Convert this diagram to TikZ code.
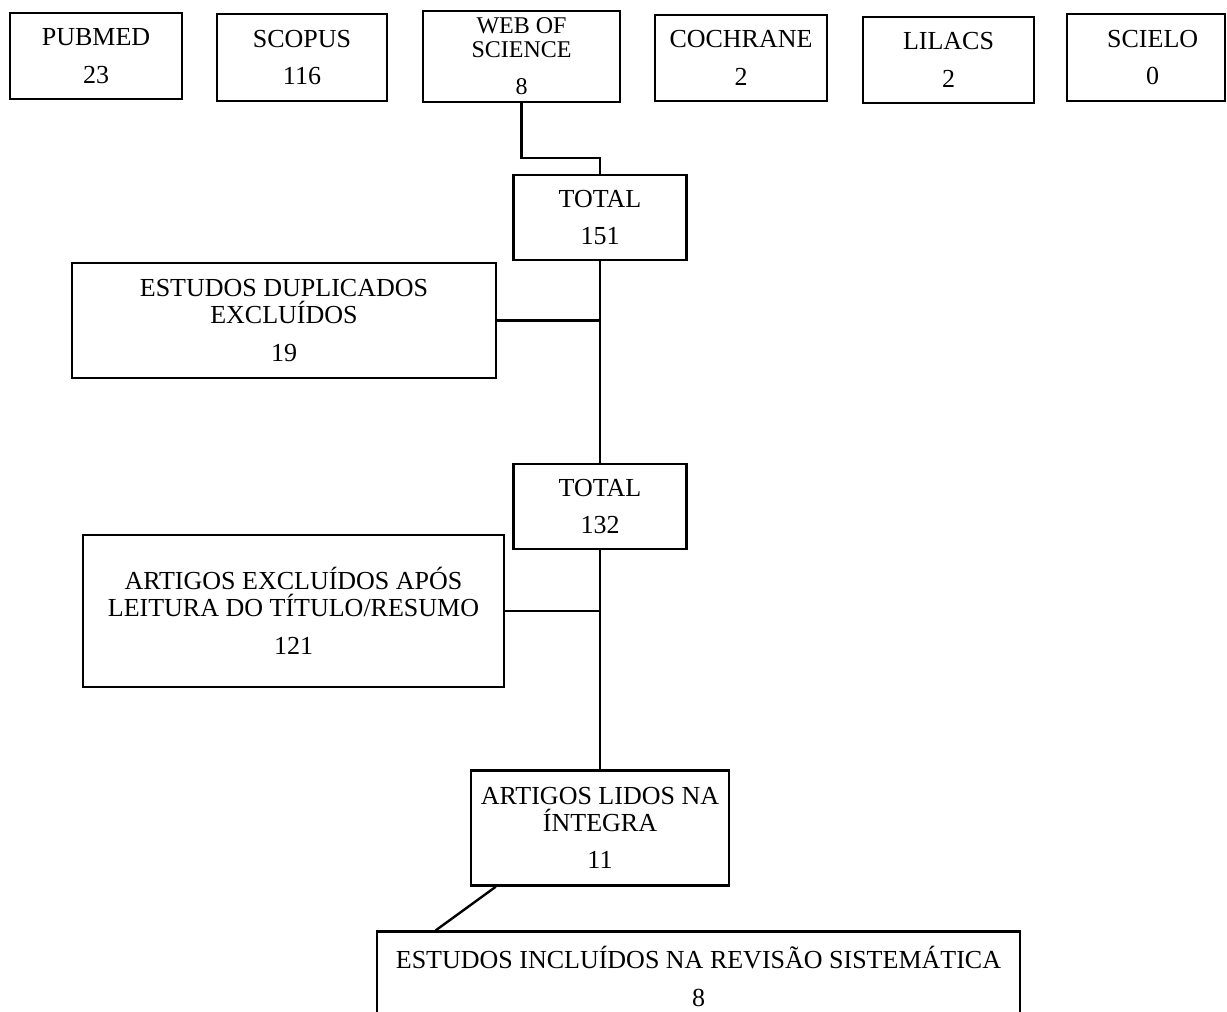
\documentclass[tikz,border=0pt]{standalone}
\usepackage{fontspec}
\setmainfont{Liberation Serif}
\usetikzlibrary{positioning, calc}

\begin{document}
\begin{tikzpicture}[x=0.75pt, y=-0.75pt,
        box/.style={draw, line width=1.8pt, inner sep=0pt, align=center,
            font=\fontsize{19.5}{20.25}\selectfont},
        link/.style={line width=1.8pt}]
        \useasboundingbox (0,0) rectangle (1227,1012);

        % bases de dados
        \node[box, minimum width=129pt, minimum height=64.5pt] (pubmed) at (96,56) {PUBMED\\[8pt]23};
        \node[box, minimum width=127.5pt, minimum height=65.25pt] (scopus) at (302,57.5) {SCOPUS\\[8pt]116};
        \node[box, minimum width=147.75pt, minimum height=68.25pt, font=\fontsize{18}{18}\selectfont] (wos) at (521.5,56.5)
            {WEB OF\\SCIENCE\\[10pt]8};
        \node[box, minimum width=129pt, minimum height=64.5pt] (cochrane) at (741,58) {COCHRANE\\[8pt]2};
        \node[box, minimum width=128.25pt, minimum height=64.5pt] (lilacs) at (948.5,60) {LILACS\\[8pt]2};
        \node[box, minimum width=118.5pt, minimum height=65.25pt] (scielo) at (1146,57.5)
            {\hspace*{10pt}SCIELO\\[8pt]\hspace*{10pt}0};

        % fluxo
        \node[box, minimum width=129.75pt, minimum height=63.75pt] (total1) at (600,217.5) {TOTAL\\[8pt]151};
        \node[box, minimum width=318pt, minimum height=86.25pt] (dup) at (284,320.5)
            {ESTUDOS DUPLICADOS\\EXCLUÍDOS\\[8pt]19};
        \node[box, minimum width=129.75pt, minimum height=63.75pt] (total2) at (600,506.5) {TOTAL\\[8pt]132};
        \node[box, minimum width=315.75pt, minimum height=114pt] (excl) at (293.5,611)
            {ARTIGOS EXCLUÍDOS APÓS\\LEITURA DO TÍTULO/RESUMO\\[8pt]121};
        \node[box, minimum width=193.5pt, minimum height=86.25pt] (lidos) at (600,828)
            {ARTIGOS LIDOS NA\\ÍNTEGRA\\[8pt]11};
        \node[box, minimum width=482.25pt, minimum height=67.5pt] (incl) at (698.5,976.5)
            {ESTUDOS INCLUÍDOS NA REVISÃO SISTEMÁTICA\\[8pt]8};

        \draw[link] (wos.south) -- ++(0,55) -| (total1.north);
        \draw[link] (total1.south) -- (total2.north);
        \draw[link] (dup.east) -- (dup.east -| total1.south);
        \draw[link] (total2.south) -- (lidos.north);
        \draw[link] (excl.east) -- (excl.east -| total2.south);
        \draw[link] ($(lidos.south west)+(26,0)$) -- ($(incl.north west)+(60,0)$);
    \end{tikzpicture}
\end{document}
